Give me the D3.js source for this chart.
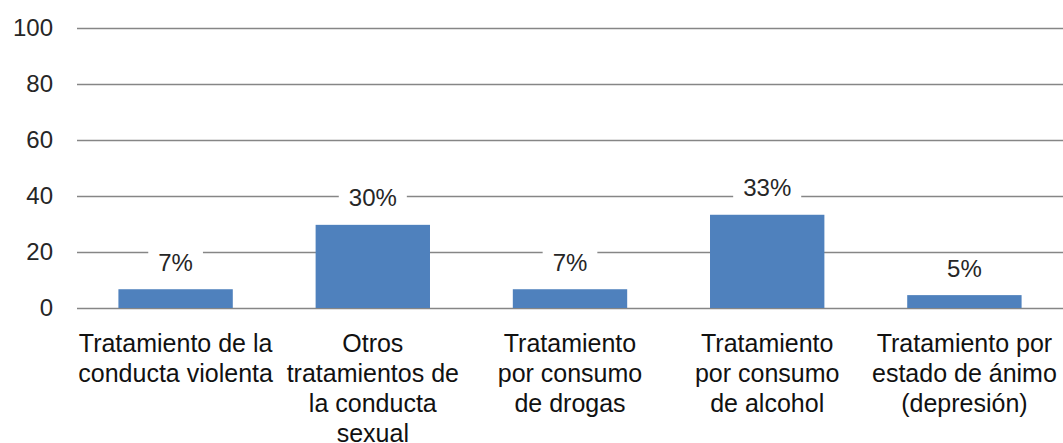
<!DOCTYPE html>
<html>
<head>
<meta charset="utf-8">
<script src="https://cdn.jsdelivr.net/npm/d3@7"></script>
<style>
  body { margin: 0; background: #fff; }
  text { font-family: "Liberation Sans", Arial, sans-serif; }
</style>
</head>
<body>
<div id="chart"></div>
<script>
var categories = [
  ['Tratamiento de la', 'conducta violenta'],
  ['Otros', 'tratamientos de', 'la conducta', 'sexual'],
  ['Tratamiento', 'por consumo', 'de drogas'],
  ['Tratamiento', 'por consumo', 'de alcohol'],
  ['Tratamiento por', 'estado de ánimo', '(depresión)']
]
var values = [6.7, 29.7, 6.7, 33.3, 4.6]
var yTicks = [0, 20, 40, 60, 80, 100]

var margin = { top: 28, left: 77, right: 0, bottom: 135 }
var width = 1063 - margin.left - margin.right
var height = 443 - margin.top - margin.bottom

var svg = d3
  .select('#chart')
  .append('svg')
  .attr('width', 1063)
  .attr('height', 443)
  .append('g')
  .attr('transform', 'translate(' + margin.left + ',' + margin.top + ')')

var xScale = d3
  .scaleBand()
  .domain(d3.range(categories.length))
  .range([0, width])
  .paddingInner(0.42)
  .paddingOuter(0.21)

var yScale = d3.scaleLinear().domain([0, 100]).range([height, 0])

// gridlines
svg
  .selectAll('.grid')
  .data(yTicks)
  .enter()
  .append('line')
  .attr('x1', 0)
  .attr('x2', width)
  .attr('y1', d => yScale(d) + 0.5)
  .attr('y2', d => yScale(d) + 0.5)
  .attr('stroke', '#868686')
  .attr('stroke-width', 1.3)

// y tick labels
svg
  .selectAll('.ytick')
  .data(yTicks)
  .enter()
  .append('text')
  .attr('x', -24)
  .attr('y', d => yScale(d))
  .attr('dy', '0.35em')
  .attr('text-anchor', 'end')
  .attr('font-size', 24)
  .attr('fill', '#262626')
  .text(d => d)

// bars
svg
  .selectAll('.bar')
  .data(values)
  .enter()
  .append('rect')
  .attr('x', (d, i) => xScale(i))
  .attr('width', xScale.bandwidth())
  .attr('y', d => yScale(d))
  .attr('height', d => height - yScale(d))
  .attr('fill', '#4F81BD')

// value labels with white box
var labels = svg
  .selectAll('.vlabel')
  .data(values)
  .enter()
  .append('g')
  .attr('transform', (d, i) => `translate(${xScale(i) + xScale.bandwidth() / 2}, ${yScale(d) - 27})`)

var boxes = labels.append('rect').attr('fill', '#fff')

labels
  .append('text')
  .attr('text-anchor', 'middle')
  .attr('dy', '0.35em')
  .attr('font-size', 24)
  .attr('fill', '#262626')
  .text(d => Math.round(d) + '%')
  .each(function() {
    var bb = this.getBBox()
    d3.select(this.previousSibling)
      .attr('x', bb.x - 10)
      .attr('y', bb.y)
      .attr('width', bb.width + 20)
      .attr('height', bb.height)
  })

// category labels
var catGroups = svg
  .selectAll('.cat')
  .data(categories)
  .enter()
  .append('text')
  .attr('text-anchor', 'middle')
  .attr('font-size', 25)
  .attr('fill', '#111')
  .attr('transform', (d, i) => `translate(${xScale(i) + xScale.bandwidth() / 2}, ${height + 44})`)

catGroups
  .selectAll('tspan')
  .data(d => d)
  .enter()
  .append('tspan')
  .attr('x', 0)
  .attr('y', (d, i) => i * 30)
  .text(d => d)
</script>
</body>
</html>
